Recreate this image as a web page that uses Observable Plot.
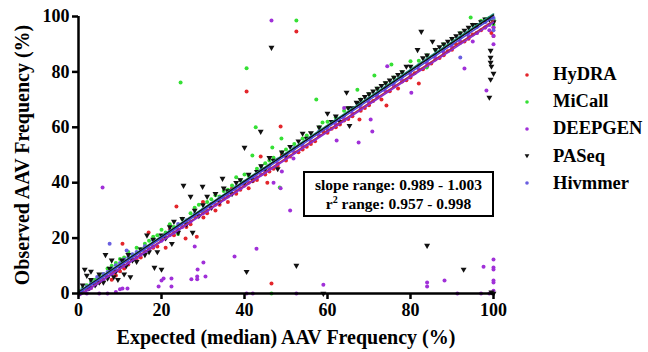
<!DOCTYPE html>
<html>
<head>
<meta charset="utf-8">
<script src="https://cdn.jsdelivr.net/npm/d3@7"></script>
<script src="https://cdn.jsdelivr.net/npm/@observablehq/plot@0.6"></script>
<style>
  body { margin: 0; background: #fff; }
  #wrap { position: relative; width: 648px; height: 352px; font-family: "Liberation Serif", "DejaVu Serif", "Noto Serif", serif; font-weight: bold; color: #000; }
  #note { position: absolute; left: 303px; top: 171px; width: 191px; height: 46px; box-sizing: border-box; border: 2px solid #000; background: #fff; text-align: center; font-size: 15.5px; line-height: 19px; padding-top: 2px; }
  #legend { position: absolute; left: 520px; top: 61px; font-size: 18.5px; }
  .row { display: flex; align-items: center; height: 27.2px; }
  .row svg { width: 14px; height: 14px; margin-right: 19px; }
</style>
</head>
<body>
<div id="wrap"></div>
<script>
const seriesNames = ["HyDRA", "MiCall", "DEEPGEN", "PASeq", "Hivmmer"];
const seriesColors = ["#e3262b", "#35e035", "#a030d8", "#111111", "#6a5fe0"];
const xTicks = [0, 20, 40, 60, 80, 100];
const yTicks = [0, 20, 40, 60, 80, 100];

const hydraPts = [[1,0.5],[2,1.5],[3,2],[4,3.5],[5,4],[6,4.5],[7,6],[8,5],[8.5,7.5],[9,6.5],[10,8],[10.6,18],[11,9],[12,10.5],[13,12],[14,12.5],[15,13],[16,15],[16.9,22],[17,16],[18,16.5],[19,17],[20,19.5],[21,16.5],[22,23],[23,21],[23.6,31.4],[24,22.5],[25.8,19.9],[26,24],[27,25],[28,28],[28.5,20.5],[30.1,27.4],[30,33],[31,29],[32,31],[33,30],[34,32],[35,34.5],[36,33],[37,38],[38,36],[39,37.5],[40,39],[40.5,72.9],[41,38],[42,40.5],[43,41],[43.9,49.5],[45,43],[45.5,40],[46,44],[46.5,3.6],[47,45],[48,46],[48.7,60.3],[49,50],[50,48],[51,49.5],[52.5,94.6],[53,51],[54,52],[55,53],[56,54],[57,55],[58,57],[59,58.5],[60,58],[61,59.5],[62,60],[63,61],[64,62.5],[65,63],[66,64],[67.7,62.8],[68,66],[69,67],[70,68],[71,69.5],[72,71],[73,70],[74.2,67.9],[75,73],[76,75],[77,74],[78,76.5],[79,77],[80,78],[81,79.5],[82,75.8],[83,81],[84,82],[85,83],[86,84.5],[87,85],[88,86],[89,87.5],[90,88],[91,90],[92,90.5],[93,91],[94,92],[95,93.5],[96,94],[97,95],[98,96],[99,97],[99.5,94],[100,96],[100,93],[100,98]];

const micallPts = [[0.5,1],[1,2],[2,3],[3,4.5],[4,5],[5,6.5],[6,7],[7,9],[8,10],[9,11],[10,12.5],[11,13],[12,15],[13,14],[14,16.5],[15,16],[16,18],[17,19],[18,20.5],[19,21],[20,23],[21,22],[22,25],[23,24],[24,21.5],[24.6,76.2],[25,27],[26,26],[27,29],[28,31],[29,32],[30,29.5],[31,33],[32,34],[33,35.5],[34,35],[35,37],[36,37.5],[37,39],[38,42],[39,41],[40,43],[40.5,81.3],[41,42.5],[41.9,49.8],[42.7,60],[43,45],[44,46],[45,47],[46,48],[46.5,0],[46.7,52.7],[47,49],[48.5,38.3],[48.9,56],[49,51],[50,52],[52,54],[52.5,98.6],[54,56],[55,57],[57.3,70],[58,60],[58.8,61.7],[60,62],[62,63.5],[64,66],[65,67],[67.2,73.6],[68,70],[70,72],[71.3,78.7],[72,74],[74,76],[75.4,82.7],[76,78],[78,80],[80,83.8],[82,84],[83.9,81.6],[84,86],[86,88],[88,90],[90,92],[92,94],[94.5,99.6],[95,97],[97,98.5],[98,99],[99,99.5],[100,99],[100,97]];

const deepgenPts = [[0.5,0],[1,0.5],[2,0],[2.5,1.5],[3,2],[4,3],[5,0],[5.8,38.3],[6,5],[7,0],[7,6],[8,7],[9,0.5],[9,8],[10,1.5],[10.6,1.8],[11,10],[11.8,1.8],[12,11],[13,12],[14,13],[15,14],[16,15],[17,16],[18,17],[19.3,2.5],[20,4.7],[20,19],[20.5,5.4],[21,20],[22,21],[22.4,2.5],[22.4,5.4],[23,22],[24,23],[25,24],[26,25],[27.2,5.1],[27,26],[28,17],[28.6,5.1],[28.6,6.1],[28.7,8.7],[29,28],[30.1,11.2],[30.6,6.1],[30,29],[31,30],[32,31],[33,32],[34,33],[35,34],[36,35],[37.6,13.4],[37,36],[38,37],[39,38],[40,39],[40.5,0],[41,40],[42,0],[42.9,16.2],[43,42],[44,43],[45,44],[46.5,98.6],[46,45],[47,40],[48,47],[48.7,38],[49,44],[50,49],[51,30],[51.8,48.7],[52,51],[52.5,0],[54,53],[56,55],[58,57],[59,3.2],[60,59],[62,61],[62.2,55.2],[64,63],[64,67],[66,65],[67.5,54.5],[68,67],[70,69],[70.4,62.8],[70.8,58.5],[72,71],[74,73],[74.4,82],[76,75],[78,77],[80,79],[80.2,72.5],[82,81],[84,4],[84,2.5],[84,83],[86,85],[88.2,4.7],[88,87],[90,89],[91.3,0],[92,91],[93,81.2],[94,93],[95,91],[96,94],[97,0],[97.6,9.7],[98,96],[98.3,73.3],[99,0],[99,95],[100,12.3],[100,9.4],[100,8.7],[100,4.7],[100,4],[100,1],[100,96],[100,93],[100,90]];

const paseqPts = [[0.5,0.5],[1,3],[1.5,8.7],[2,6.5],[2.5,2],[3,8],[3,5],[4,3],[5,4],[5,7],[6,4],[6.5,14],[7,5.5],[7.5,9],[8,12],[8.5,6],[9,8],[9.5,5],[10,9.5],[10.5,12],[11,7],[11.5,10],[12,14],[12.5,6],[13,12],[14,11.5],[15,16],[16,14],[16.5,21],[17,15],[18.3,9.4],[18,19.5],[19,15],[20,8.7],[20,21],[21,20],[22,24],[22.5,18],[23,26],[24,22],[25.3,39],[25,27],[26,25],[27,35],[27.5,22],[28,30],[29,28],[29.9,38.6],[30,32],[31,35],[32,31],[33,36],[34,33],[34.7,41.5],[35,38],[36,37],[37,36],[38,40],[39,41],[40,52.7],[40,40],[40.5,7.9],[41,43],[42,41],[43,44],[43.9,58.5],[44,46],[45,45],[46,49],[46.5,88.8],[47,48],[48,45],[49,51],[50,50],[51,53],[52.5,10.1],[53,55],[54,57.8],[55,56],[56,58],[58,60],[59,0],[60,65],[61,62],[62,64],[63,62],[64.6,72.6],[65,67],[65.3,60.6],[66,67],[67,69],[67.2,68.6],[68,70],[69,71],[70,72],[71,73],[72,74],[73,75],[74,76],[75,77],[76,78],[77,79],[78,80],[79,82],[80,82],[81.7,88],[82.6,94.6],[83,85],[84,17.3],[84,86],[85.3,91],[86,88],[87,89],[88,90],[89,91],[90,92],[91,93],[92,94],[92.8,8.7],[93,95],[94,96],[95,97],[96,97],[97,98],[98,99],[99,99],[99.3,87.7],[99.3,85.2],[99.3,83.4],[99.5,82],[100,79.4],[99.3,77.3],[99,70.8],[100,0],[99.5,0.5],[100,98]];

const hivmmerPts = [[0.5,0.5],[1,1.5],[2,2.5],[3,3.5],[4,4.2],[4.5,6],[5,5.5],[6,7],[7,7.8],[7.5,18],[8,9],[9,10.2],[10,11],[11,12.3],[11.6,15.5],[12,13],[13,14.2],[14,15],[15,15.7],[16,17.1],[18,19.2],[20,20.8],[22,22.6],[24,25.1],[26,26.4],[28,28.7],[30,30.3],[32,32.4],[34,34.6],[36,36.2],[38,38.5],[40,40.3],[42,41.8],[44,44.6],[46,46.1],[48,48.4],[50,50.2],[52,52.5],[54,54.1],[56,56.3],[58,58.6],[60,60.1],[62,62.4],[64,64.2],[66,66.5],[68,68.1],[70,70.3],[72,72.2],[74,74.4],[76,76.1],[78,78.3],[80,80.2],[82,82.4],[84,84.1],[86,86.3],[88,88.2],[90,90.1],[92,85.2],[92,92.3],[94,94.1],[96,96.2],[98,97.9],[99,97],[100,99.5],[100,95]];

const fitSeries = ["HyDRA", "MiCall", "PASeq", "Hivmmer", "DEEPGEN"];
const fitColors = ["#b02a50", "#2a9a88", "#111111", "#4a4ad8", "#8a2ad0"];
const fitY0 = [-0.8, 0.6, 0.4, 0.0, -1.0];
const fitY100 = [98.5, 100.9, 100.5, 99.8, 97.9];

const fontStack = "'Liberation Serif', 'DejaVu Serif', 'Noto Serif', serif";

const toRows = (name, pts) => pts.map(([x, y]) => ({series: name, x, y}));
const dotRows = [
  ...toRows("HyDRA", hydraPts),
  ...toRows("MiCall", micallPts),
  ...toRows("DEEPGEN", deepgenPts),
  ...toRows("Hivmmer", hivmmerPts)
];
const paseqRows = toRows("PASeq", paseqPts);
const fitRows = fitSeries.flatMap((s, i) => [
  {series: s, x: 0, y: fitY0[i], c: fitColors[i]},
  {series: s, x: 100, y: fitY100[i], c: fitColors[i]}
]);

const chart = Plot.plot({
  width: 648,
  height: 352,
  marginLeft: 78,
  marginRight: 155,
  marginTop: 16,
  marginBottom: 59,
  x: {domain: [0, 100]},
  y: {domain: [0, 100]},
  color: {domain: seriesNames, range: seriesColors},
  style: {fontFamily: fontStack, fontSize: "18px", fontWeight: "bold", color: "#000", background: "#fff"},
  marks: [
    Plot.dot(dotRows, {x: "x", y: "y", fill: "series", r: 2}),
    Plot.dot(paseqRows, {x: "x", y: "y", fill: "series", symbol: "triangle", rotate: 180, r: 2.2}),
    Plot.line(fitRows, {x: "x", y: "y", z: "series", stroke: "c", strokeWidth: 1.6}),
    Plot.ruleY([0], {strokeWidth: 2.5}),
    Plot.ruleX([0], {strokeWidth: 2.5}),
    Plot.axisX({ticks: xTicks, tickSize: 6, strokeWidth: 2.5, tickPadding: 4, label: null, fontSize: 18, fontWeight: "bold", fontFamily: fontStack}),
    Plot.axisY({ticks: yTicks, tickSize: 6, strokeWidth: 2.5, tickPadding: 3, label: null, fontSize: 18, fontWeight: "bold", fontFamily: fontStack}),
    Plot.text(["Expected (median) AAV Frequency (%)"], {frameAnchor: "bottom", dy: 50, fontSize: 20, fontWeight: "bold", fontFamily: fontStack}),
    Plot.text(["Observed AAV Frequency (%)"], {frameAnchor: "left", dx: -56, rotate: -90, textAnchor: "middle", fontSize: 20, fontWeight: "bold", fontFamily: fontStack})
  ]
});

const wrap = document.getElementById("wrap");
wrap.appendChild(chart);

const note = document.createElement("div");
note.id = "note";
note.innerHTML = "slope range: 0.989 - 1.003<br>r<sup style=\"font-size:10px;line-height:0\">2</sup> range: 0.957 - 0.998";
wrap.appendChild(note);

const legend = document.createElement("div");
legend.id = "legend";
seriesNames.forEach((name, i) => {
  const row = document.createElement("div");
  row.className = "row";
  const shape = name === "PASeq"
    ? `<path d="M4.6,5.2 L9.4,5.2 L7,9.2 Z" fill="${seriesColors[i]}"/>`
    : `<circle cx="7" cy="7" r="1.8" fill="${seriesColors[i]}"/>`;
  row.innerHTML = `<svg viewBox="0 0 14 14">${shape}</svg><span>${name}</span>`;
  legend.appendChild(row);
});
wrap.appendChild(legend);
</script>
</body>
</html>
